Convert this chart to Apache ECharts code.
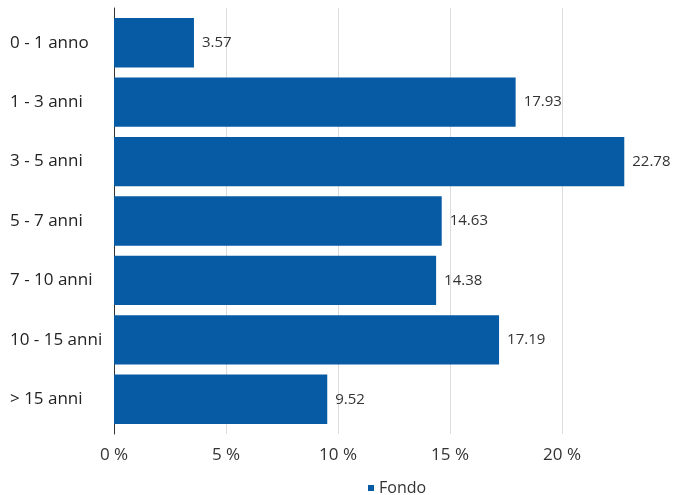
<!DOCTYPE html>
<html><head><meta charset="utf-8">
<script src="https://cdn.jsdelivr.net/npm/echarts@6/dist/echarts.min.js"></script>
<style>html,body{margin:0;padding:0;background:#fff;overflow:hidden}#c{width:674px;height:495px}</style>
</head><body><div id="c"></div>
<script>
const categories = ["0 - 1 anno","1 - 3 anni","3 - 5 anni","5 - 7 anni","7 - 10 anni","10 - 15 anni","> 15 anni"];
const fondo = [3.57,17.93,22.78,14.63,14.38,17.19,9.52];
const xTicks = [0,5,10,15,20];
const font = '"Open Sans","Noto Sans",sans-serif';
const chart = echarts.init(document.getElementById('c'));
chart.setOption({
  animation:false,
  textStyle:{fontFamily:font},
  grid:[
    {left:114,width:448,top:8,bottom:61},
    {left:114,width:560,top:13,bottom:66}
  ],
  legend:{left:363,bottom:-6,itemWidth:6,itemHeight:6,icon:'rect',itemGap:9,
    textStyle:{fontSize:16,color:'#333',fontFamily:font},data:['Fondo']},
  xAxis:[
    {gridIndex:0,type:'value',min:0,max:20,interval:5,
      axisLine:{show:false},axisTick:{show:false},
      splitLine:{lineStyle:{color:'#dcdcdc',width:1}},
      axisLabel:{fontSize:17,color:'#333',margin:13,fontFamily:font,
        formatter:v=>xTicks.includes(v)?v+' %':''}},
    {gridIndex:1,type:'value',min:0,max:25,interval:5,show:false,splitLine:{show:false}}
  ],
  yAxis:[
    {gridIndex:0,type:'category',inverse:true,data:categories,
      axisLine:{lineStyle:{color:'#333',width:1}},axisTick:{show:false},axisLabel:{show:false}},
    {gridIndex:1,type:'category',inverse:true,data:categories,
      axisLine:{show:false},axisTick:{show:false},
      axisLabel:{align:'left',margin:104,fontSize:17,color:'#222',fontFamily:font}}
  ],
  series:[{name:'Fondo',type:'bar',xAxisIndex:1,yAxisIndex:1,data:fondo,barCategoryGap:'17%',
    itemStyle:{color:'#075ba4'},
    label:{show:true,position:'right',distance:8,fontSize:15,color:'#333',fontFamily:font,
      formatter:p=>p.value.toFixed(2)}}]
});
</script></body></html>
